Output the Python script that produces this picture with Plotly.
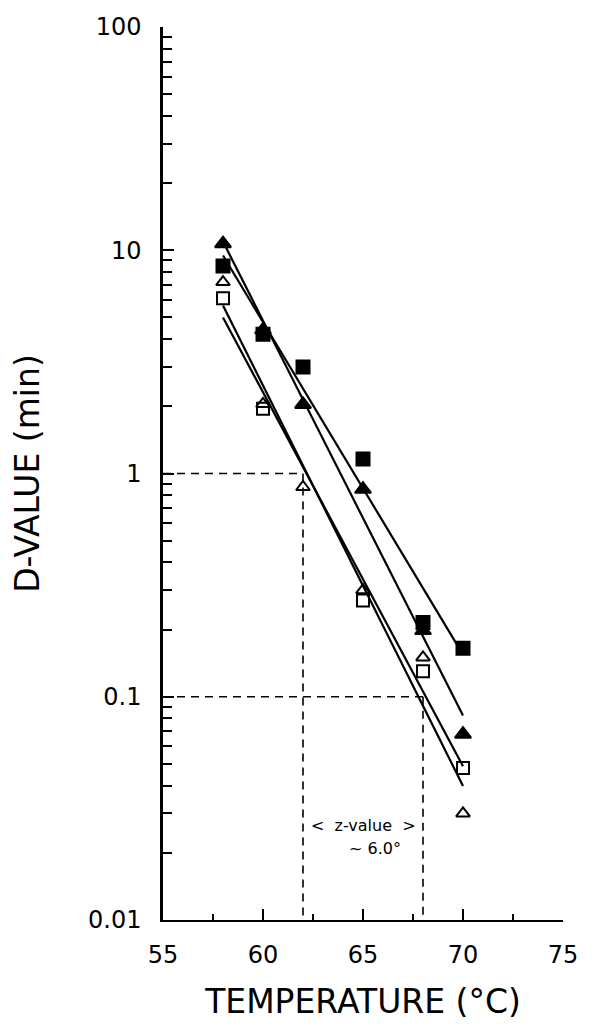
import numpy as np
import plotly.graph_objects as go

# Temperatures (°C) and D-values (min)
temp_filled_sq = [58, 60, 62, 65, 68, 70]
d_filled_sq = [8.5, 4.2, 3.0, 1.16, 0.215, 0.165]

temp_filled_tri = [58, 60, 62, 65, 68, 70]
d_filled_tri = [10.7, 4.4, 2.04, 0.85, 0.198, 0.068]

temp_open_tri = [58, 60, 62, 65, 68, 70]
d_open_tri = [7.2, 2.05, 0.87, 0.30, 0.15, 0.030]

temp_open_sq = [58, 60, 65, 68, 70]
d_open_sq = [6.1, 1.95, 0.27, 0.13, 0.048]

# Reference (z-value) construction
ref_d = [1, 0.1]
ref_temp = [62, 68]

x_tick_vals = [55, 60, 65, 70, 75]
x_tick_labels = ["55", "60", "65", "70", "75"]
y_tick_vals = [0.01, 0.1, 1, 10, 100]
y_tick_labels = ["0.01", "0.1", "1", "10", "100"]

FONT = "DejaVu Sans"
fig = go.Figure()

# dashed reference lines
for d, t in zip(ref_d, ref_temp):
    fig.add_trace(go.Scatter(x=[55, t], y=[d, d], mode="lines",
                             line=dict(color="black", width=1.6, dash="8px,6px"),
                             showlegend=False, hoverinfo="skip"))
    fig.add_trace(go.Scatter(x=[t, t], y=[d, 0.01], mode="lines",
                             line=dict(color="black", width=1.6, dash="8px,6px"),
                             showlegend=False, hoverinfo="skip"))

series = [
    ("filled squares", temp_filled_sq, d_filled_sq, "square", 13),
    ("filled triangles", temp_filled_tri, d_filled_tri, "triangle-up", 14),
    ("open triangles", temp_open_tri, d_open_tri, "triangle-up-open", 12),
    ("open squares", temp_open_sq, d_open_sq, "square-open", 12),
]

# regression lines (log-linear fit)
for name, t, d, sym, sz in series:
    slope, icpt = np.polyfit(t, np.log10(d), 1)
    tx = np.array([min(t), max(t)], dtype=float)
    fig.add_trace(go.Scatter(x=tx, y=10 ** (icpt + slope * tx), mode="lines",
                             line=dict(color="black", width=2.2),
                             showlegend=False, hoverinfo="skip"))

for name, t, d, sym, sz in series:
    fig.add_trace(go.Scatter(x=t, y=d, mode="markers", name=name,
                             marker=dict(symbol=sym, size=sz, color="black",
                                         line=dict(color="black", width=2)),
                             showlegend=False))

fig.add_annotation(x=65.0, y=np.log10(0.0265), xref="x", yref="y",
                   text="<  z-value  >", showarrow=False,
                   font=dict(family=FONT, size=16, color="black"))
fig.add_annotation(x=65.6, y=np.log10(0.021), xref="x", yref="y",
                   text="~ 6.0°", showarrow=False,
                   font=dict(family=FONT, size=16, color="black"))

fig.update_layout(
    width=600, height=1036,
    margin=dict(l=155, r=45, t=19, b=124),
    paper_bgcolor="white", plot_bgcolor="white",
    font=dict(family=FONT, color="black"),
    showlegend=False,
)
fig.update_xaxes(
    range=[55, 75], tickvals=x_tick_vals, ticktext=x_tick_labels,
    ticks="inside", ticklen=11, tickwidth=1.5, tickcolor="black",
    minor=dict(dtick=2.5, tick0=55, ticks="inside", ticklen=6, tickwidth=1.5, tickcolor="black"),
    showline=True, linecolor="black", linewidth=2.2, showgrid=False, zeroline=False,
    tickfont=dict(family=FONT, size=24), ticklabelstandoff=12,
    title=dict(text="TEMPERATURE (°C)", font=dict(family=FONT, size=33), standoff=22),
    automargin=False,
)
fig.update_yaxes(
    type="log", range=[-2, 2], tickvals=y_tick_vals, ticktext=y_tick_labels,
    ticks="inside", ticklen=11, tickwidth=1.5, tickcolor="black",
    minor=dict(dtick="D1", ticks="inside", ticklen=9, tickwidth=1.5, tickcolor="black"),
    showline=True, linecolor="black", linewidth=2.5, showgrid=False, zeroline=False,
    tickfont=dict(family=FONT, size=24), ticklabelstandoff=14,
    title=dict(text="D-VALUE (min)", font=dict(family=FONT, size=33), standoff=40),
    automargin=False,
)

fig.write_html("out.html")
